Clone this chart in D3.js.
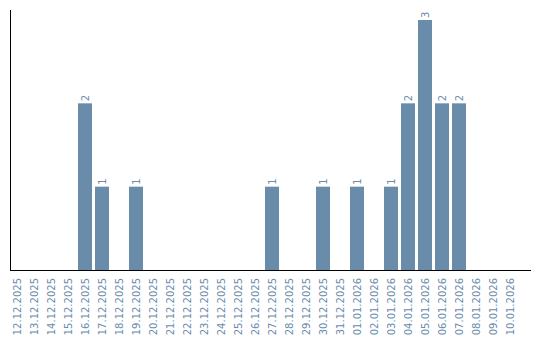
<!DOCTYPE html>
<html>
<head>
<meta charset="utf-8">
<script src="https://cdn.jsdelivr.net/npm/d3@7"></script>
<style>
  body { margin: 0; background: #fff; }
  svg { display: block; }
  text { font-family: "DejaVu Sans", sans-serif; }
</style>
</head>
<body>
<div id="chart"></div>
<script>
'use strict'

var dates = ["12.12.2025", "13.12.2025", "14.12.2025", "15.12.2025", "16.12.2025",
    "17.12.2025", "18.12.2025", "19.12.2025", "20.12.2025", "21.12.2025",
    "22.12.2025", "23.12.2025", "24.12.2025", "25.12.2025", "26.12.2025",
    "27.12.2025", "28.12.2025", "29.12.2025", "30.12.2025", "31.12.2025",
    "01.01.2026", "02.01.2026", "03.01.2026", "04.01.2026", "05.01.2026",
    "06.01.2026", "07.01.2026", "08.01.2026", "09.01.2026", "10.01.2026"];
var counts = [0, 0, 0, 0, 2, 1, 0, 1, 0, 0,
    0, 0, 0, 0, 0, 1, 0, 0, 1, 0,
    1, 0, 1, 2, 3, 2, 2, 0, 0, 0];

var barColor = "#6a8cab";

var width = 540, height = 340,
    left = 10, base = 270;

var svg = d3.select("#chart").append("svg").attr("width", width).attr("height", height);

var x = d3.scaleBand()
    .domain(dates)
    .range([left, left + dates.length * 17 - 3])
    .paddingInner(3 / 17)
    .paddingOuter(0);

var y = d3.scaleLinear().domain([0, 3]).range([base, 20]);

var data = dates.map(function (d, i) { return { date: d, value: counts[i] }; });

svg.append("g").selectAll("rect")
    .data(data.filter(function (d) { return d.value > 0; }))
    .enter().append("rect")
    .attr("x", function (d) { return x(d.date); })
    .attr("y", function (d) { return y(d.value); })
    .attr("width", x.bandwidth())
    .attr("height", function (d) { return base - y(d.value); })
    .attr("fill", barColor);

// value labels above bars
svg.append("g").selectAll("text")
    .data(data.filter(function (d) { return d.value > 0; }))
    .enter().append("text")
    .attr("transform", function (d) {
        return "translate(" + (x(d.date) + x.bandwidth() / 2 + 3.5) + "," + (y(d.value) - 2) + ") rotate(-90)";
    })
    .attr("fill", barColor)
    .attr("font-size", 10)
    .text(function (d) { return d.value; });

// date labels
svg.append("g").selectAll("text")
    .data(dates)
    .enter().append("text")
    .attr("transform", function (d) {
        return "translate(" + (x(d) + x.bandwidth() / 2 + 3.5) + "," + (base + 8) + ") rotate(-90)";
    })
    .attr("text-anchor", "end")
    .attr("fill", barColor)
    .attr("font-size", 10)
    .text(function (d) { return d; });

// axes lines
svg.append("line")
    .attr("x1", left + 0.5).attr("x2", left + 0.5)
    .attr("y1", 10).attr("y2", base + 0.5)
    .attr("stroke", "#000");
svg.append("line")
    .attr("x1", left).attr("x2", 531)
    .attr("y1", base + 0.5).attr("y2", base + 0.5)
    .attr("stroke", "#000");
</script>
</body>
</html>
